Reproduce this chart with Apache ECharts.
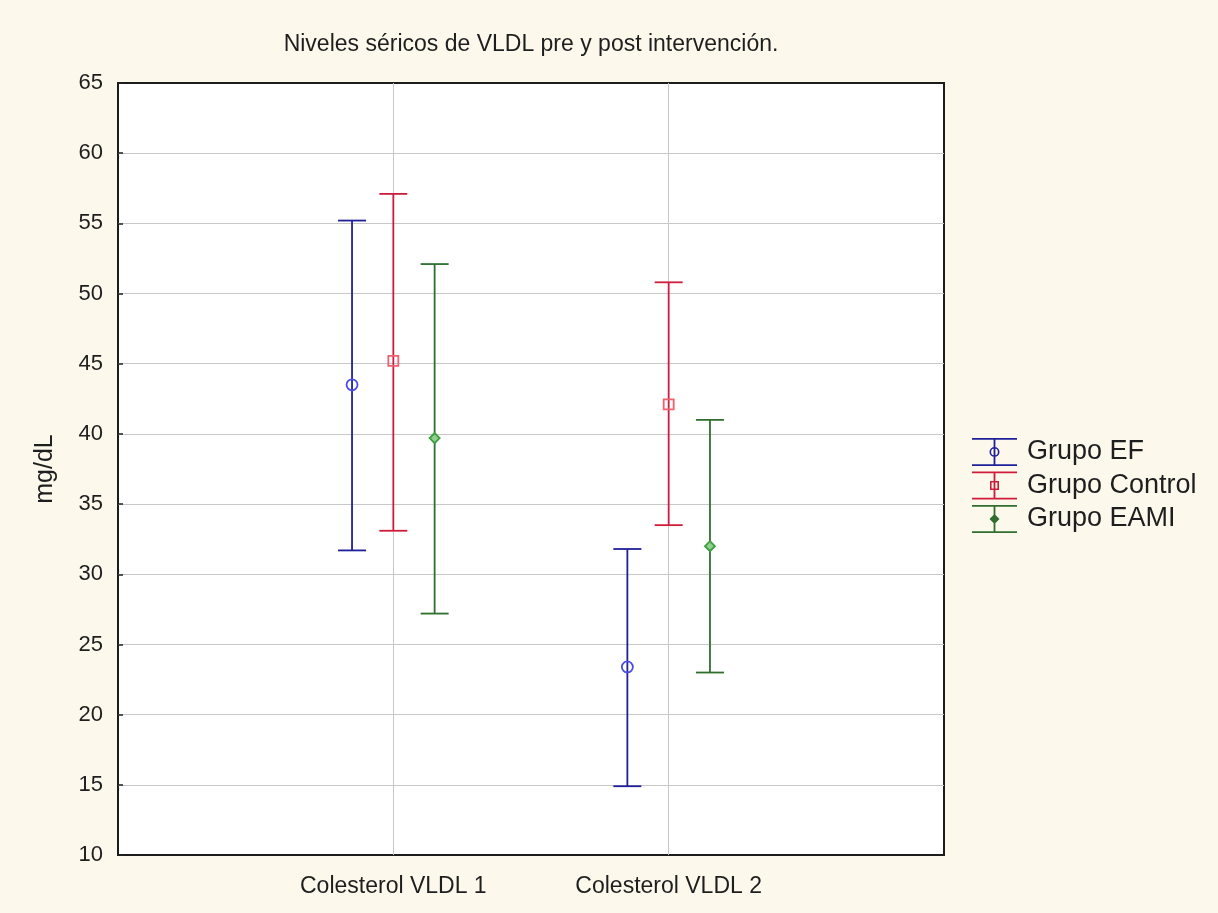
<!DOCTYPE html>
<html>
<head>
<meta charset="utf-8">
<script src="https://cdn.jsdelivr.net/npm/echarts@6/dist/echarts.min.js"></script>
<style>
  html, body { margin: 0; padding: 0; background: #fdf8ec; }
  #chart { width: 1218px; height: 913px; }
</style>
</head>
<body>
<div id="chart"></div>
<script>
// Mean and interval limits (mg/dL) for each group at each measurement
const categories = ['Colesterol VLDL 1', 'Colesterol VLDL 2'];
const groupNames = ['Grupo EF', 'Grupo Control', 'Grupo EAMI'];

const efMean = [43.5, 23.4];
const efLow = [31.7, 14.9];
const efHigh = [55.2, 31.8];

const controlMean = [45.2, 42.1];
const controlLow = [33.1, 33.5];
const controlHigh = [57.1, 50.8];

const eamiMean = [39.7, 32.0];
const eamiLow = [27.2, 23.0];
const eamiHigh = [52.1, 41.0];

const yMin = 10, yMax = 65, yStep = 5;

// Styling per group: line colour, marker colour, marker shape, horizontal offset from category
const groupStyles = [
  { line: '#1f1f9a', marker: '#4b4be6', shape: 'circle', offset: -0.15 },
  { line: '#d01c3c', marker: '#f0606e', shape: 'square', offset: 0 },
  { line: '#2f6e2f', marker: '#3c9e3c', shape: 'diamond', offset: 0.15 }
];
const groupValues = [
  [efMean, efLow, efHigh],
  [controlMean, controlLow, controlHigh],
  [eamiMean, eamiLow, eamiHigh]
];

const CAP_HALF = 14;
const LINE_W = 1.8;

function markerShape(kind, cx, cy, color) {
  const style = { fill: 'none', stroke: color, lineWidth: 1.8 };
  if (kind === 'circle') {
    return { type: 'circle', shape: { cx: cx, cy: cy, r: 5.5 }, style: style, z2: 5 };
  }
  if (kind === 'square') {
    return { type: 'rect', shape: { x: cx - 5, y: cy - 5, width: 10, height: 10 }, style: style, z2: 5 };
  }
  return {
    type: 'polygon',
    shape: { points: [[cx, cy - 5], [cx + 5, cy], [cx, cy + 5], [cx - 5, cy]] },
    style: { fill: '#8fcf8f', stroke: color, lineWidth: 1.8 }, z2: 5
  };
}

function makeRenderer(gs) {
  return function (params, api) {
    const x = api.value(0);
    const pM = api.coord([x, api.value(1)]);
    const pL = api.coord([x, api.value(2)]);
    const pH = api.coord([x, api.value(3)]);
    const lineStyle = { stroke: gs.line, lineWidth: LINE_W };
    return {
      type: 'group',
      children: [
        { type: 'line', shape: { x1: pH[0], y1: pH[1], x2: pL[0], y2: pL[1] }, style: lineStyle },
        { type: 'line', shape: { x1: pH[0] - CAP_HALF, y1: pH[1], x2: pH[0] + CAP_HALF, y2: pH[1] }, style: lineStyle },
        { type: 'line', shape: { x1: pL[0] - CAP_HALF, y1: pL[1], x2: pL[0] + CAP_HALF, y2: pL[1] }, style: lineStyle },
        markerShape(gs.shape, pM[0], pM[1], gs.marker)
      ]
    };
  };
}

// Legend icons: capped vertical bar with the group's marker in the middle (45 x 28 box)
const barPart = 'M0,0 H45 V1.8 H0 Z M21.6,0 H23.4 V28 H21.6 Z M0,26.2 H45 V28 H0 Z ';
const legendIcons = [
  'path://' + barPart +
    'M27.5,14 A5,5 0 1,1 17.5,14 A5,5 0 1,1 27.5,14 Z M25.9,14 A3.4,3.4 0 1,0 19.1,14 A3.4,3.4 0 1,0 25.9,14 Z',
  'path://' + barPart +
    'M18,9.5 H27 V18.5 H18 Z M19.6,11.1 V16.9 H25.4 V11.1 Z',
  'path://' + barPart +
    'M22.5,9 L27.5,14 L22.5,19 L17.5,14 Z'
];

const series = groupNames.map(function (name, g) {
  const gs = groupStyles[g];
  const vals = groupValues[g];
  const data = categories.map(function (c, i) {
    return [i + 1 + gs.offset, vals[0][i], vals[1][i], vals[2][i]];
  });
  return {
    name: name,
    type: 'custom',
    renderItem: makeRenderer(gs),
    itemStyle: { color: gs.line },
    encode: { x: 0, y: [1, 2, 3] },
    data: data,
    clip: false
  };
});

const chart = echarts.init(document.getElementById('chart'));
chart.setOption({
  backgroundColor: '#fdf8ec',
  animation: false,
  title: {
    text: 'Niveles séricos de VLDL pre y post intervención.',
    left: 526,
    textAlign: 'center',
    top: 28,
    textStyle: { fontFamily: 'Liberation Sans', fontSize: 23, fontWeight: 'normal', color: '#1e1e1e' }
  },
  grid: {
    left: 118, top: 83, width: 826, height: 772,
    show: true, backgroundColor: '#ffffff', borderColor: '#1c1c1c', borderWidth: 2
  },
  legend: {
    orient: 'vertical',
    left: 967, top: 433,
    itemWidth: 45, itemHeight: 28, itemGap: 5.5,
    selectedMode: false,
    data: groupNames.map(function (n, i) { return { name: n, icon: legendIcons[i] }; }),
    textStyle: { fontFamily: 'Liberation Sans', fontSize: 27, color: '#1e1e1e', padding: [0, 0, 0, 5] }
  },
  xAxis: {
    type: 'value',
    min: 0, max: categories.length + 1, interval: 1,
    axisLine: { show: false },
    axisTick: { show: false },
    splitLine: { show: true, showMinLine: false, showMaxLine: false, lineStyle: { color: '#c8c8c8', width: 1 } },
    axisLabel: {
      margin: 20,
      fontFamily: 'Liberation Sans', fontSize: 23, color: '#1e1e1e',
      formatter: function (v) { return categories[v - 1] || ''; }
    }
  },
  yAxis: {
    type: 'value',
    min: yMin, max: yMax, interval: yStep,
    name: 'mg/dL',
    nameLocation: 'middle',
    nameRotate: 90,
    nameGap: 60,
    nameTextStyle: { fontFamily: 'Liberation Sans', fontSize: 25, color: '#1e1e1e' },
    axisLine: { show: false },
    axisTick: { show: true, inside: true, length: 5, lineStyle: { color: '#222', width: 1.5 } },
    splitLine: { show: true, showMinLine: false, showMaxLine: false, lineStyle: { color: '#c8c8c8', width: 1 } },
    axisLabel: { margin: 15, fontFamily: 'Liberation Sans', fontSize: 22, color: '#1e1e1e' }
  },
  series: series
});
</script>
</body>
</html>
